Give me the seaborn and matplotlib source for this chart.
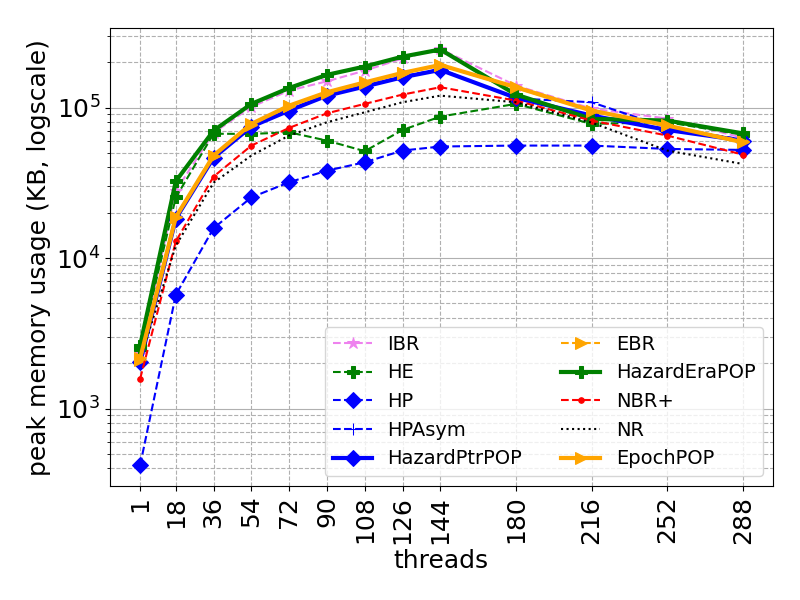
import matplotlib
matplotlib.use('Agg')
import matplotlib.pyplot as plt
import seaborn as sns

# dane: liczba watkow i szczytowe zuzycie pamieci (KB)
threads = [1, 18, 36, 54, 72, 90, 108, 126, 144, 180, 216, 252, 288]

ibr = [2300, 28000, 68000, 101000, 129700, 149500, 176000, 212000, 245000, 140000, 98500, 84500, 63000]
he = [2500, 25300, 67000, 66800, 68500, 60300, 51300, 71000, 87100, 105800, 77900, 80000, 66000]
hp = [420, 5700, 15800, 25300, 31900, 38100, 43300, 51800, 55100, 55900, 55900, 53100, 52300]
hpasym = [2100, 19000, 47000, 75500, 97000, 121000, 140000, 161000, 180000, 115000, 108500, 73600, 61300]
hazardptrpop = [2030, 18300, 46500, 74800, 95500, 120000, 138000, 159000, 178000, 116000, 88500, 71000, 60400]
ebr = [2100, 18700, 47500, 77000, 102000, 125000, 146000, 169000, 191000, 135000, 95000, 76000, 60000]
hazarderapop = [2620, 32400, 70300, 105800, 135000, 165000, 187400, 218000, 243000, 122000, 84100, 82000, 67400]
nbrplus = [1575, 12900, 34800, 55900, 73300, 91600, 105800, 122000, 136500, 111300, 82000, 65200, 48700]
nr = [2100, 12100, 31700, 48000, 65200, 79900, 93000, 108500, 120000, 108500, 79500, 51800, 42200]
epochpop = [2150, 18700, 48000, 77900, 103000, 126400, 147000, 170000, 192000, 136500, 95500, 76000, 58800]

fig, ax = plt.subplots(figsize=(8, 6), dpi=100)
fig.subplots_adjust(left=0.1375, right=0.966, bottom=0.19, top=0.953)

series = [
    ('IBR', ibr, 'violet', '--', '*', 1.5, 9),
    ('HE', he, 'green', '--', 'P', 1.5, 8),
    ('HP', hp, 'blue', '--', 'D', 1.5, 8),
    ('HPAsym', hpasym, 'blue', '--', '+', 1.5, 9),
    ('HazardPtrPOP', hazardptrpop, 'blue', '-', 'D', 3, 8),
    ('EBR', ebr, 'orange', '--', '>', 1.5, 8),
    ('HazardEraPOP', hazarderapop, 'green', '-', 'P', 3, 8),
    ('NBR+', nbrplus, 'red', '--', '.', 1.5, 8),
    ('NR', nr, 'black', ':', None, 1.5, 8),
    ('EpochPOP', epochpop, 'orange', '-', '>', 3, 8),
]

for name, vals, col, ls, mk, lw, ms in series:
    sns.lineplot(x=threads, y=vals, ax=ax, color=col, linestyle=ls,
                 marker=mk, lw=lw, markersize=ms, markeredgecolor=col,
                 label=name)

ax.set_yscale('log')
ax.set_xticks(threads)
ax.set_xticklabels([str(t) for t in threads], rotation=90)
ax.tick_params(axis='both', which='major', labelsize=18)
ax.set_xlabel('threads', fontsize=18)
ax.set_ylabel('peak memory usage (KB, logscale)', fontsize=18)

ax.grid(True, which='both', linestyle='--', color='#b0b0b0')
ax.yaxis.grid(True, which='major', linestyle='-', color='#b0b0b0')
ax.set_axisbelow(True)

ax.legend(loc='lower right', ncol=2, fontsize=14)

plt.savefig('out.png')
